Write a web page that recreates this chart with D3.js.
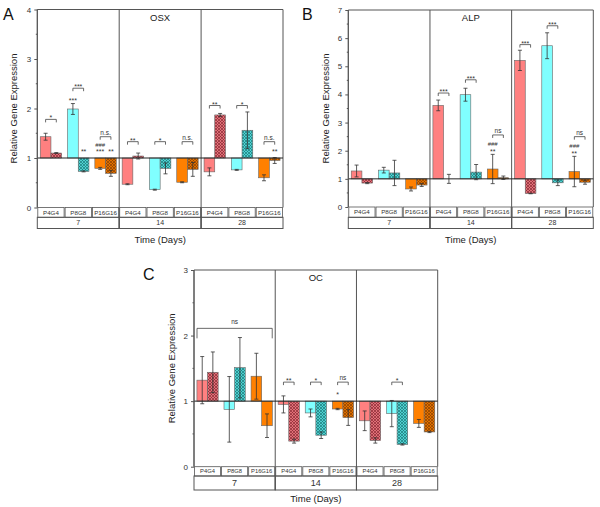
<!DOCTYPE html>
<html><head><meta charset="utf-8">
<script src="https://cdn.jsdelivr.net/npm/d3@7"></script>
<style>body{margin:0;background:#fff}svg{display:block;font-family:"Liberation Sans",Arial,sans-serif}</style>
</head><body>
<svg id="c" width="600" height="507"></svg>
<script>
const days = ["7","14","28"];
const groups = ["P4G4","P8G8","P16G16"];
// values indexed [day][group]
const osxSolid    = [[1.43,1.99,0.79],[0.47,0.36,0.51],[0.72,0.76,0.60]];
const osxSolidErr = [[0.07,0.11,0.02],[0.01,0.01,0.01],[0.08,0.01,0.06]];
const osxHatch    = [[1.10,0.73,0.69],[1.04,0.79,0.77],[1.87,1.56,0.95]];
const osxHatchErr = [[0.01,0.01,0.06],[0.06,0.11,0.14],[0.03,0.37,0.06]];

const alpSolid    = [[1.28,1.31,0.64],[3.61,3.99,1.35],[5.21,5.73,1.26]];
const alpSolidErr = [[0.21,0.10,0.07],[0.19,0.23,0.52],[0.36,0.46,0.54]];
const alpHatch    = [[0.85,1.21,0.78],[1.00,1.24,1.04],[0.48,0.86,0.88]];
const alpHatchErr = [[0.02,0.45,0.05],[0.16,0.27,0.06],[0.01,0.10,0.07]];

const ocSolid     = [[1.32,0.875,1.38],[0.95,0.82,0.88],[0.70,0.81,0.66]];
const ocSolidErr  = [[0.36,0.50,0.35],[0.13,0.06,0.01],[0.15,0.20,0.06]];
const ocHatch     = [[1.44,1.51,0.625],[0.39,0.48,0.75],[0.40,0.34,0.53]];
const ocHatchErr  = [[0.31,0.46,0.18],[0.03,0.05,0.12],[0.04,0.01,0.01]];
const ocPlainHatched = [[0,2]]; // [day, group] drawn without hatch in the source

const osxTicks = [0,1,2,3,4];
const alpTicks = [0,1,2,3,4,5,6,7];
const ocTicks  = [0,1,2,3];

// significance annotations: d=day index, g=group index, s=0 solid/1 hatched, v=level (data units)
const osxBrackets = [{d:0,g:0,t:"*",v:1.78},{d:0,g:1,t:"***",v:2.41},{d:0,g:2,t:"n.s.",v:1.43},
  {d:1,g:0,t:"**",v:1.33},{d:1,g:1,t:"*",v:1.33},{d:1,g:2,t:"n.s.",v:1.33},
  {d:2,g:0,t:"**",v:2.06},{d:2,g:1,t:"*",v:2.06},{d:2,g:2,t:"n.s.",v:1.33}];
const osxMarks = [{d:0,g:1,s:0,t:"***",v:2.19},{d:0,g:1,s:1,t:"**",v:1.16},{d:0,g:2,s:0,t:"###",v:1.27},
  {d:0,g:2,s:0,t:"***",v:1.16},{d:0,g:2,s:1,t:"**",v:1.16},{d:2,g:2,s:1,t:"**",v:1.16}];
const alpBrackets = [{d:1,g:0,t:"***",v:4.05},{d:1,g:1,t:"***",v:4.52},{d:1,g:2,t:"ns",v:2.56},
  {d:2,g:0,t:"***",v:5.77},{d:2,g:1,t:"***",v:6.44},{d:2,g:2,t:"ns",v:2.50}];
const alpMarks = [{d:1,g:2,s:0,t:"###",v:2.24},{d:1,g:2,s:0,t:"**",v:2.03},
  {d:2,g:2,s:0,t:"###",v:2.17},{d:2,g:2,s:0,t:"**",v:1.96}];
const ocBrackets = [{d:1,g:0,t:"**",v:1.29},{d:1,g:1,t:"*",v:1.29},{d:1,g:2,t:"ns",v:1.29},{d:2,g:1,t:"*",v:1.29}];
const ocSpan = [{d:0,t:"ns",v:2.11}];
const ocMarks = [{d:1,g:2,s:0,t:"*",v:1.12}];

const solidColors = ["#ff8080","#80ffff","#ff8000"];
const hatchBase   = ["#e07078","#50d0d0","#e07000"];
const hatchLine   = ["#8a2a34","#1a7a7a","#8a4000"];
const axisCol = "#555";
const textCol = "#333";

const svg = d3.select("#c");
const defs = svg.append("defs");
hatchBase.forEach((c,i)=>{
  const p = defs.append("pattern").attr("id","h"+i).attr("patternUnits","userSpaceOnUse")
    .attr("width",3).attr("height",3);
  p.append("rect").attr("width",3).attr("height",3).attr("fill",c);
  p.append("path").attr("d","M0,0L3,3M3,0L0,3").attr("stroke",hatchLine[i]).attr("stroke-width",0.7);
});

function panel(o){
  const g = svg.append("g");
  const y = d3.scaleLinear().domain([0,o.ymax]).range([o.y0,o.top]);
  const xd = d3.scaleBand().domain(days).range([o.x0,o.x1]).padding(0);
  const xg = d3.scaleBand().domain(groups).range([0,xd.bandwidth()]).padding(0);
  const xs = d3.scaleBand().domain([0,1]).range([0,xg.bandwidth()]).paddingInner(0).paddingOuter(0.275);
  const bx = (d,gi,s)=> xd(days[d]) + xg(groups[gi]) + xs(s);
  const bw = xs.bandwidth();

  // bars
  days.forEach((dy,d)=>{
    groups.forEach((gr,gi)=>{
      [0,1].forEach(s=>{
        const v = s===0 ? o.solid[d][gi] : o.hatch[d][gi];
        const e = s===0 ? o.solidErr[d][gi] : o.hatchErr[d][gi];
        const plain = s===1 && (o.plain||[]).some(p=>p[0]===d&&p[1]===gi);
        const fill = s===0 ? solidColors[gi] : (plain ? solidColors[gi] : "url(#h"+gi+")");
        const x = bx(d,gi,s);
        g.append("rect").attr("x",x).attr("width",bw)
          .attr("y",Math.min(y(v),y(1))).attr("height",Math.abs(y(v)-y(1)))
          .attr("fill",fill).attr("stroke","#666").attr("stroke-width",0.6);
        const cx = x+bw/2;
        g.append("path").attr("d",`M${cx},${y(v+e)}V${y(v-e)}M${cx-2},${y(v+e)}H${cx+2}M${cx-2},${y(v-e)}H${cx+2}`)
          .attr("stroke","#333").attr("stroke-width",0.8).attr("fill","none");
      });
    });
  });

  // frame
  g.append("path").attr("d",`M${o.x0},${o.y0}V${o.top}H${o.x1}V${o.y0}`).attr("fill","none").attr("stroke",axisCol).attr("stroke-width",1);
  // dividers
  days.slice(1).forEach(dy=>{
    g.append("line").attr("x1",xd(dy)).attr("x2",xd(dy)).attr("y1",o.top).attr("y2",o.r2)
      .attr("stroke",axisCol).attr("stroke-width",1);
  });
  // baseline at 1
  g.append("line").attr("x1",o.x0).attr("x2",o.x1).attr("y1",y(1)).attr("y2",y(1)).attr("stroke","#222").attr("stroke-width",1);

  // y axis
  const ax = g.append("g").attr("transform",`translate(${o.x0},0)`)
    .call(d3.axisLeft(y).tickValues(o.ticks).tickSize(3).tickFormat(d3.format("d")));
  ax.select(".domain").attr("stroke",axisCol).attr("d",`M0,${o.y0}V${o.top}`);
  ax.selectAll(".tick line").attr("stroke",axisCol);
  ax.selectAll("text").attr("fill",textCol).attr("font-size",8).attr("font-family","Liberation Sans, Arial, sans-serif");
  const minor = d3.range(0.5,o.ymax,1);
  g.selectAll(null).data(minor).join("line").attr("x1",o.x0-1.5).attr("x2",o.x0)
    .attr("y1",d=>y(d)).attr("y2",d=>y(d)).attr("stroke",axisCol);

  // category boxes
  days.forEach(dy=>{
    groups.forEach(gr=>{
      const x = xd(dy)+xg(gr);
      g.append("rect").attr("x",x+0.5).attr("y",o.y0).attr("width",xg.bandwidth()-1).attr("height",o.r1-o.y0)
        .attr("fill","none").attr("stroke",axisCol).attr("stroke-width",0.8);
      g.append("text").attr("x",x+xg.bandwidth()/2).attr("y",(o.y0+o.r1)/2).attr("dy","0.35em")
        .attr("text-anchor","middle").attr("font-size",o.catFont).attr("fill",textCol).text(gr);
    });
    g.append("rect").attr("x",xd(dy)).attr("y",o.r1).attr("width",xd.bandwidth()).attr("height",o.r2-o.r1)
      .attr("fill","none").attr("stroke",axisCol).attr("stroke-width",1);
    g.append("text").attr("x",xd(dy)+xd.bandwidth()/2).attr("y",(o.r1+o.r2)/2).attr("dy","0.35em")
      .attr("text-anchor","middle").attr("font-size",o.dayFont).attr("fill",textCol).text(dy);
  });

  // brackets
  o.brackets.forEach(b=>{
    const xa = bx(b.d,b.g,0)+bw/2, xb = bx(b.d,b.g,1)+bw/2, yy = y(b.v);
    g.append("path").attr("d",`M${xa},${yy+3}V${yy}H${xb}V${yy+3}`).attr("fill","none").attr("stroke","#444").attr("stroke-width",0.8);
    const star = b.t.includes("*");
    g.append("text").attr("x",(xa+xb)/2).attr("y",yy-(star?-1:2)).attr("text-anchor","middle")
      .attr("font-size",star?7:6.5).attr("fill",textCol).text(b.t);
  });
  (o.spans||[]).forEach(b=>{
    const xa = xd(days[b.d])+3, xb = xd(days[b.d])+xd.bandwidth()-3, yy = y(b.v);
    g.append("path").attr("d",`M${xa},${yy+10}V${yy}H${xb}V${yy+10}`).attr("fill","none").attr("stroke","#444").attr("stroke-width",0.8);
    g.append("text").attr("x",(xa+xb)/2).attr("y",yy-4).attr("text-anchor","middle")
      .attr("font-size",6.5).attr("fill",textCol).text(b.t);
  });
  o.marks.forEach(m=>{
    const x = bx(m.d,m.g,m.s)+bw/2;
    const star = m.t.includes("*");
    g.append("text").attr("x",x).attr("y",y(m.v)+(star?4:2.5)).attr("text-anchor","middle")
      .attr("font-size",star?7:6).attr("fill",textCol).text(m.t);
  });

  // titles
  g.append("text").attr("x",(xd(days[1])+xd(days[1])+xd.bandwidth())/2).attr("y",o.top+11)
    .attr("text-anchor","middle").attr("font-size",9.5).attr("fill","#222").text(o.title);
  g.append("text").attr("transform",`translate(${o.ylabX},${(o.top+o.y0)/2}) rotate(-90)`)
    .attr("text-anchor","middle").attr("dy","0.35em").attr("font-size",9.5).attr("fill","#222").text("Relative Gene Expression");
  g.append("text").attr("x",(o.x0+o.x1)/2).attr("y",o.xlabY).attr("dy","0.35em")
    .attr("text-anchor","middle").attr("font-size",9.5).attr("fill","#222").text("Time (Days)");
  g.append("text").attr("x",o.lx).attr("y",o.ly).attr("font-size",16).attr("fill","#111").text(o.letter);
}

panel({letter:"A",lx:3,ly:20,title:"OSX",x0:37.3,x1:283,top:9.5,y0:207.5,r1:217.3,r2:228.5,ymax:4,ticks:osxTicks,
  solid:osxSolid,solidErr:osxSolidErr,hatch:osxHatch,hatchErr:osxHatchErr,
  brackets:osxBrackets,marks:osxMarks,ylabX:14,xlabY:239.5,catFont:6.2,dayFont:7});
panel({letter:"B",lx:302,ly:20,title:"ALP",x0:348.3,x1:593.3,top:10,y0:207,r1:217.3,r2:228.5,ymax:7,ticks:alpTicks,
  solid:alpSolid,solidErr:alpSolidErr,hatch:alpHatch,hatchErr:alpHatchErr,
  brackets:alpBrackets,marks:alpMarks,ylabX:326,xlabY:239.5,catFont:6.2,dayFont:7});
panel({letter:"C",lx:143,ly:280,title:"OC",x0:194,x1:437.7,top:270,y0:466.7,r1:476,r2:490,ymax:3,ticks:ocTicks,
  solid:ocSolid,solidErr:ocSolidErr,hatch:ocHatch,hatchErr:ocHatchErr,plain:ocPlainHatched,
  brackets:ocBrackets,spans:ocSpan,marks:ocMarks,ylabX:171.7,xlabY:499,catFont:5.8,dayFont:9});
</script>
</body></html>
